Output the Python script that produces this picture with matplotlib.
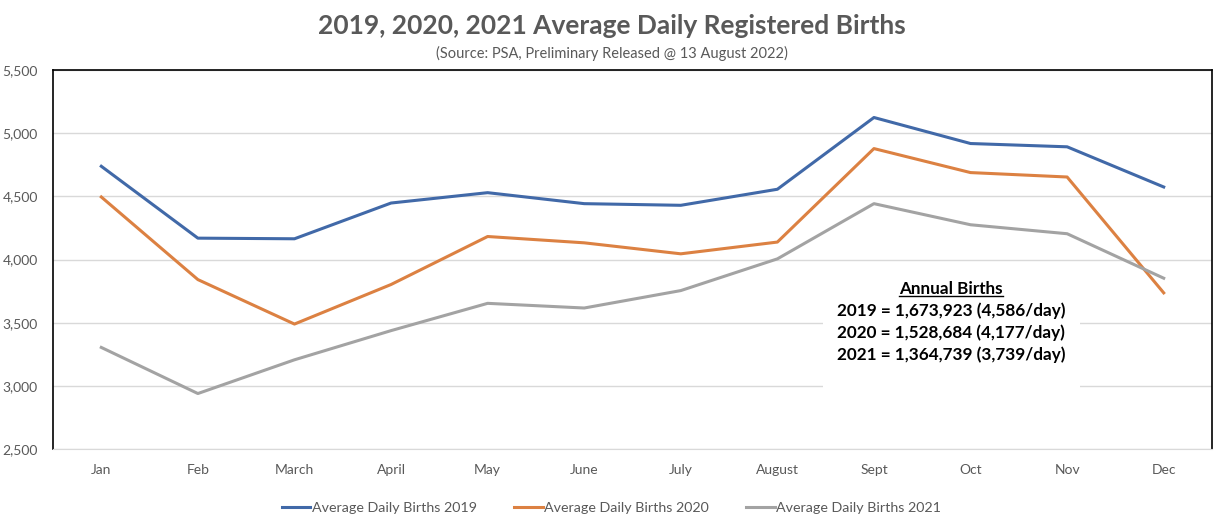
import numpy as np
import matplotlib.pyplot as plt
from matplotlib.lines import Line2D
from matplotlib.patches import Rectangle
from matplotlib.ticker import FuncFormatter

plt.rcParams['font.family'] = ['Lato', 'DejaVu Sans']

months = ["Jan", "Feb", "March", "April", "May", "June", "July", "August",
          "Sept", "Oct", "Nov", "Dec"]
births_2019 = [4738, 4169, 4164, 4447, 4529, 4442, 4429, 4556, 5124, 4918, 4892, 4574]
births_2020 = [4495, 3841, 3489, 3802, 4182, 4132, 4045, 4138, 4878, 4688, 4653, 3736]
births_2021 = [3304, 2939, 3206, 3437, 3653, 3616, 3754, 4005, 4442, 4275, 4204, 3852]
series_names = ["Average Daily Births 2019", "Average Daily Births 2020",
                "Average Daily Births 2021"]
colors = ["#4169A8", "#DC8142", "#A3A3A3"]
annual_lines = ["2019 = 1,673,923 (4,586/day)",
                "2020 = 1,528,684 (4,177/day)",
                "2021 = 1,364,739 (3,739/day)"]

W, H = 1223, 522
fig = plt.figure(figsize=(W / 100, H / 100), dpi=100)
ax = fig.add_axes([53 / W, 1 - 449 / H, (1212 - 53) / W, (449 - 70) / H])

x = np.arange(len(months))
for vals, c, name in zip([births_2019, births_2020, births_2021], colors, series_names):
    ax.plot(x, vals, color=c, lw=2.2, label=name, zorder=3, solid_joinstyle='round')

ax.set_xlim(-0.5, 11.5)
ax.set_ylim(2500, 5500)
ax.set_yticks(np.arange(2500, 5501, 500))
ax.yaxis.set_major_formatter(FuncFormatter(lambda v, p: f"{int(v):,}"))
ax.set_xticks(x)
ax.set_xticklabels(months)
ax.grid(axis='y', color='#d9d9d9', lw=1)
ax.set_axisbelow(True)
ax.tick_params(length=0, colors='#595959', labelsize=10)
ax.tick_params(axis='y', pad=11)
ax.tick_params(axis='x', pad=10.5)
for s in ['top', 'left', 'right']:
    ax.spines[s].set_color('black')
    ax.spines[s].set_linewidth(1.2)
ax.spines['bottom'].set_color('#d9d9d9')

# white box behind the annotation
box = Rectangle((823 / W, 1 - 395 / H), (1080 - 823) / W, (395 - 265) / H,
                transform=fig.transFigure, facecolor='white', edgecolor='none', zorder=2)
ax.add_artist(box)

cx = 951 / W
head = fig.text(cx, 1 - 289 / H, "Annual Births", ha='center', va='center',
                fontsize=12.3, fontweight='bold', color='black')
for i, t in enumerate(annual_lines):
    fig.text(cx, 1 - (311 + 22 * i) / H, t, ha='center', va='center',
             fontsize=12.3, fontweight='bold', color='black')

fig.text(0.5, 1 - 26 / H, "2019, 2020, 2021 Average Daily Registered Births",
         ha='center', va='center', fontsize=19, fontweight='bold', color='#595959')
fig.text(0.5, 1 - 53 / H, "(Source: PSA, Preliminary Released @ 13 August 2022)",
         ha='center', va='center', fontsize=10.5, color='#595959')

handles = [Line2D([0], [0], color=c, lw=2.2) for c in colors]
fig.legend(handles, series_names, loc='center', bbox_to_anchor=(0.5, 1 - 508 / H),
           ncol=3, frameon=False, fontsize=10.3, labelcolor='#595959',
           handlelength=2.0, handletextpad=0.1, columnspacing=2.6)

# underline the heading
fig.canvas.draw()
bb = head.get_window_extent().transformed(fig.transFigure.inverted())
fig.add_artist(Line2D([bb.x0, bb.x1], [bb.y0 + 0.002, bb.y0 + 0.002],
                      transform=fig.transFigure, color='black', lw=1))

fig.savefig("out.png", dpi=100, facecolor='white')
